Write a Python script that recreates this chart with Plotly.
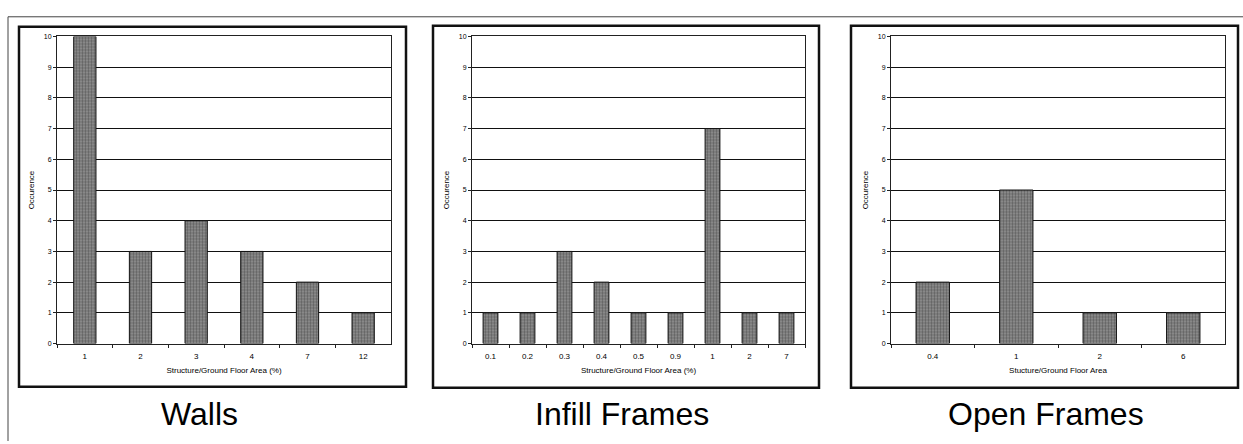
import plotly.graph_objects as go

# Occurrence counts of structure-to-ground-floor area ratios by system type
walls_cats = ["1", "2", "3", "4", "7", "12"]
walls_vals = [10, 3, 4, 3, 2, 1]

infill_cats = ["0.1", "0.2", "0.3", "0.4", "0.5", "0.9", "1", "2", "7"]
infill_vals = [1, 1, 3, 2, 1, 1, 7, 1, 1]

open_cats = ["0.4", "1", "2", "6"]
open_vals = [2, 5, 1, 1]

panel_titles = ["Walls", "Infill Frames", "Open Frames"]
x_titles = ["Structure/Ground Floor Area (%)",
            "Structure/Ground Floor Area (%)",
            "Stucture/Ground Floor Area"]
y_title = "Occurence"

W, H = 1243, 444
FONT = "Liberation Sans, Arial, sans-serif"


def px(x):
    return x / W


def py(y):
    return 1 - y / H


# plot-area extents in pixels (left, right) and chart frame boxes
plot_x = [(57, 391), (472, 805), (891, 1225)]
plot_top, plot_bottom = 33, 345
frames = [(19, 23, 406, 389), (433, 22, 819, 390), (851, 22, 1238, 390)]
title_x = [199, 622, 1046]

bar_marker = dict(
    color="#7a7a7a",
    line=dict(color="#111", width=1),
    pattern=dict(shape=".", fgcolor="#2a2a2a", bgcolor="#959595",
                 size=3, solidity=0.5),
)

fig = go.Figure()
series = [(walls_cats, walls_vals), (infill_cats, infill_vals), (open_cats, open_vals)]
for i, (cats, vals) in enumerate(series):
    suffix = "" if i == 0 else str(i + 1)
    fig.add_trace(go.Bar(x=cats, y=vals, xaxis="x" + suffix, yaxis="y" + suffix,
                         marker=bar_marker, width=0.4, showlegend=False,
                         hoverinfo="x+y"))

layout = dict(
    width=W, height=H,
    margin=dict(l=0, r=0, t=0, b=0),
    paper_bgcolor="white", plot_bgcolor="white",
    font=dict(family=FONT, color="black"),
    showlegend=False,
)

for i in range(3):
    suffix = "" if i == 0 else str(i + 1)
    l, r = plot_x[i]
    layout["xaxis" + suffix] = dict(
        domain=[px(l), px(r)], anchor="y" + suffix, type="category",
        showline=True, linecolor="#222", linewidth=1, mirror=True,
        ticks="outside", ticklen=3, tickcolor="#222", tickson="boundaries",
        ticklabelstandoff=5,
        showgrid=False, tickfont=dict(size=8, family=FONT, color="black"),
        title=dict(text=x_titles[i], font=dict(size=8, family=FONT, color="black"),
                   standoff=7),
        fixedrange=True,
    )
    layout["yaxis" + suffix] = dict(
        domain=[py(plot_bottom), py(plot_top)], anchor="x" + suffix,
        range=[0, 10], dtick=1, showgrid=True, gridcolor="#111", gridwidth=1,
        showline=True, linecolor="#222", linewidth=1, mirror=True,
        ticks="outside", ticklen=3, tickcolor="#222", zeroline=False,
        tickfont=dict(size=7, family=FONT, color="black"),
        title=dict(text=y_title, font=dict(size=8, family=FONT, color="black"),
                   standoff=7),
        fixedrange=True,
    )

shapes = []
for (x0, y0, x1, y1) in frames:
    shapes.append(dict(type="rect", xref="paper", yref="paper",
                       x0=px(x0), y0=py(y1), x1=px(x1), y1=py(y0),
                       line=dict(color="#111", width=2.5)))
# page border: top and left rules
shapes.append(dict(type="line", xref="paper", yref="paper",
                   x0=px(8), y0=py(13), x1=1, y1=py(13),
                   line=dict(color="#444", width=1)))
shapes.append(dict(type="line", xref="paper", yref="paper",
                   x0=px(8), y0=py(13), x1=px(8), y1=0,
                   line=dict(color="#444", width=1)))
layout["shapes"] = shapes

layout["annotations"] = [
    dict(text=t, x=px(xc), y=py(417), xref="paper", yref="paper",
         xanchor="center", yanchor="middle", showarrow=False,
         font=dict(size=32, family=FONT, color="black"))
    for t, xc in zip(panel_titles, title_x)
]

fig.update_layout(**layout)
fig.write_html("out.html")
